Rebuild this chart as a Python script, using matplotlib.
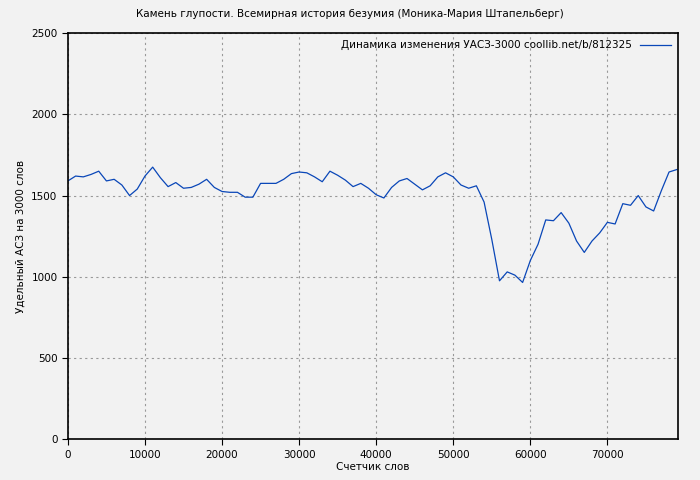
import matplotlib.pyplot as plt

WORDS = list(range(0, 80000, 1000))
ACS = [
    1590, 1620, 1615, 1630, 1650, 1590, 1600, 1565, 1500, 1540,
    1620, 1675, 1610, 1555, 1580, 1545, 1550, 1570, 1600, 1550,
    1525, 1520, 1520, 1490, 1490, 1575, 1575, 1575, 1600, 1635,
    1645, 1640, 1615, 1585, 1650, 1625, 1595, 1555, 1575, 1545,
    1505, 1485, 1550, 1590, 1605, 1570, 1535, 1560, 1615, 1640,
    1615, 1565, 1545, 1560, 1460, 1230, 975, 1030, 1010, 965,
    1100, 1200, 1350, 1345, 1395, 1330, 1220, 1150, 1220, 1270,
    1335, 1325, 1450, 1440, 1500, 1430, 1405, 1530, 1645, 1660,
]

TITLE = "Камень глупости. Всемирная история безумия (Моника-Мария Штапельберг)"
LABEL = "Динамика изменения УАСЗ-3000 coollib.net/b/812325"

plt.rcParams["font.family"] = ["DejaVu Sans"]
fig = plt.figure(figsize=(7, 4.8), dpi=100, facecolor="#f2f2f2")
ax = fig.add_axes([0.097, 0.085, 0.872, 0.846])
ax.set_facecolor("#f2f2f2")
ax.plot(WORDS, ACS, color="#0a47b8", linewidth=0.9, label=LABEL)
ax.set_xlim(0, 79200)
ax.set_ylim(0, 2500)
ax.set_xticks(range(0, 80000, 10000))
ax.set_yticks(range(0, 2501, 500))
ax.grid(True, color="#999999", linestyle=(0, (2, 3)), linewidth=0.8)
for s in ax.spines.values():
    s.set_linewidth(1.2)
ax.tick_params(labelsize=7.5, length=4)
ax.set_xlabel("Счетчик слов", fontsize=7.5, labelpad=2)
ax.set_ylabel("Удельный АСЗ на 3000 слов", fontsize=7.5)
fig.suptitle(TITLE, fontsize=7.5, y=0.982)
leg = ax.legend(loc="upper right", fontsize=7.5, frameon=False, markerfirst=False,
                handlelength=3, borderaxespad=0.3)
fig.savefig("out.png", facecolor=fig.get_facecolor())
